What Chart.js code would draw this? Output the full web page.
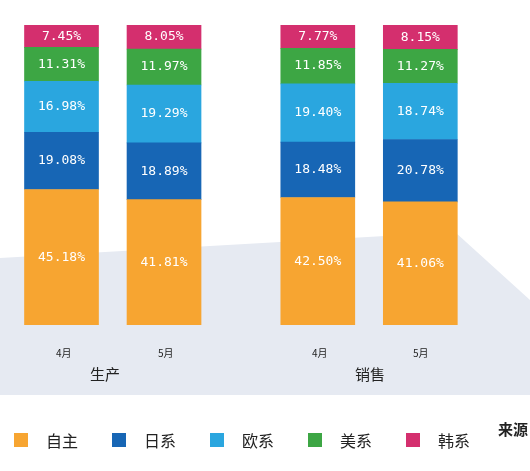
<!DOCTYPE html><html><head><meta charset="utf-8">
<script src="https://cdn.jsdelivr.net/npm/chart.js@4/dist/chart.umd.min.js"></script>
<style>body{margin:0;background:#fff;font-family:"Noto Sans CJK SC",sans-serif}#w{position:relative;width:530px;height:471px}
.t{position:absolute;color:#222}</style></head><body><div id="w"><canvas id="c" width="530" height="471"></canvas>
<div class="t" style="left:56px;top:345px;font-size:10px">4月</div><div class="t" style="left:158px;top:345px;font-size:10px">5月</div>
<div class="t" style="left:312px;top:345px;font-size:10px">4月</div><div class="t" style="left:413px;top:345px;font-size:10px">5月</div>
<div class="t" style="left:90px;top:363px;font-size:15px">生产</div><div class="t" style="left:355px;top:363px;font-size:15px">销售</div>
<div class="t" style="left:498px;top:418px;font-size:15px;font-weight:bold">来源</div>
<div id="lg" class="t" style="left:14px;top:428px;font-size:16px;display:flex;gap:0"></div>
</div>
<script>
const categories=["生产4月","生产5月","销售4月","销售5月"];
const positions=[0,1,2.5,3.5];
const series=["自主","日系","欧系","美系","韩系"];
const colors=["#F7A531","#1766B5","#2AA6DF","#3DA644","#D42F6E"];
const ziZhu=[45.18,41.81,42.50,41.06];
const riXi=[19.08,18.89,18.48,20.78];
const ouXi=[16.98,19.29,19.40,18.74];
const meiXi=[11.31,11.97,11.85,11.27];
const hanXi=[7.45,8.05,7.77,8.15];
const vals=[ziZhu,riXi,ouXi,meiXi,hanXi];
const lg=document.getElementById('lg');
series.forEach((s,i)=>{lg.innerHTML+=`<span style="display:inline-flex;align-items:center;width:98px"><span style="width:14px;height:14px;background:${colors[i]};margin-right:18px"></span>${s}</span>`});
const bg={id:'bg',beforeDraw(ch){const c=ch.ctx;c.save();c.fillStyle='#E6EAF2';c.beginPath();c.moveTo(0,258);c.lineTo(455,232);c.lineTo(530,300);c.lineTo(530,395);c.lineTo(0,395);c.closePath();c.fill();c.restore();}};
const lbl={id:'lbl',afterDatasetsDraw(ch){const c=ch.ctx;c.save();c.fillStyle='#fff';c.font='13px "DejaVu Sans Mono",monospace';c.textAlign='center';c.textBaseline='middle';
ch.data.datasets.forEach((d,di)=>{ch.getDatasetMeta(di).data.forEach((b,i)=>{c.fillText(d.data[i].y.toFixed(2)+'%',b.x,(b.y+b.base)/2);});});c.restore();}};
new Chart(document.getElementById('c'),{type:'bar',
data:{datasets:series.map((s,i)=>({label:s,data:vals[i].map((v,j)=>({x:positions[j],y:v})),backgroundColor:colors[i],barThickness:74}))},
options:{responsive:false,animation:false,layout:{padding:{top:25,bottom:146,left:0,right:0}},
plugins:{legend:{display:false},tooltip:{enabled:false}},
scales:{x:{type:'linear',stacked:true,offset:false,min:-0.6,max:4.57,display:false},y:{stacked:true,min:0,max:100,display:false}}},
plugins:[bg,lbl]});
</script></body></html>
